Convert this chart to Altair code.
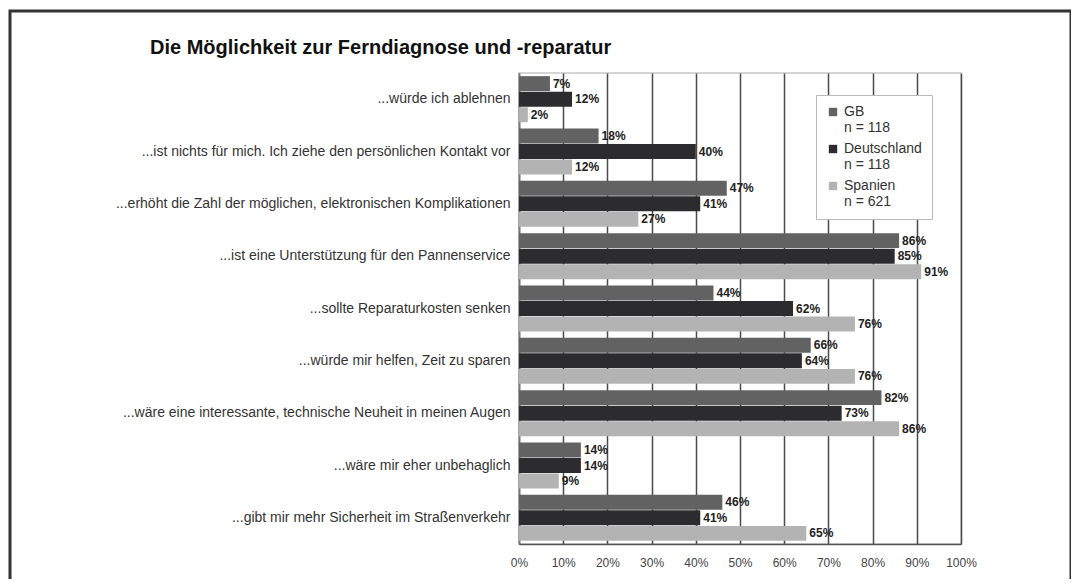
import altair as alt
import pandas as pd

categories = [
    "...würde ich ablehnen",
    "...ist nichts für mich. Ich ziehe den persönlichen Kontakt vor",
    "...erhöht die Zahl der möglichen, elektronischen Komplikationen",
    "...ist eine Unterstützung für den Pannenservice",
    "...sollte Reparaturkosten senken",
    "...würde mir helfen, Zeit zu sparen",
    "...wäre eine interessante, technische Neuheit in meinen Augen",
    "...wäre mir eher unbehaglich",
    "...gibt mir mehr Sicherheit im Straßenverkehr",
]
series = ["GB", "Deutschland", "Spanien"]
sample_sizes = ["n = 118", "n = 118", "n = 621"]
gb = [7, 18, 47, 86, 44, 66, 82, 14, 46]
de = [12, 40, 41, 85, 62, 64, 73, 14, 41]
es = [2, 12, 27, 91, 76, 76, 86, 9, 65]
colors = ["#626262", "#2c2c2e", "#b3b3b3"]
x_ticks = [0, 10, 20, 30, 40, 50, 60, 70, 80, 90, 100]
title_text = "Die Möglichkeit zur Ferndiagnose und -reparatur"

rows = []
for i, c in enumerate(categories):
    for s, vals in zip(series, [gb, de, es]):
        rows.append({"cat": c, "series": s, "value": vals[i], "label": f"{vals[i]}%"})
df = pd.DataFrame(rows)

label_expr = ""
for s, n in zip(series[:-1], sample_sizes[:-1]):
    label_expr += f"datum.label == '{s}' ? ['{s}', '{n}'] : "
label_expr += f"['{series[-1]}', '{sample_sizes[-1]}']"

FONT = "Liberation Sans"

y_enc = alt.Y(
    "cat:N",
    sort=categories,
    scale=alt.Scale(paddingInner=0.12, paddingOuter=0.06),
    axis=alt.Axis(
        title=None, labelFontSize=14, labelColor="#333", labelPadding=9,
        ticks=False, domainColor="#777", domainWidth=1.5, labelLimit=700,
        grid=False, labelFont=FONT,
    ),
)
x_enc = alt.X(
    "value:Q",
    scale=alt.Scale(domain=[0, 100], nice=False),
    axis=alt.Axis(
        values=x_ticks, labelExpr="datum.value + '%'", title=None, ticks=False,
        grid=True, gridColor="#4a4a4a", gridWidth=1.5, domainColor="#555",
        domainWidth=1.5, labelFontSize=12, labelColor="#444", labelPadding=13,
        labelFont=FONT, labelFlush=False, labelOverlap=False,
    ),
)
yoff = alt.YOffset("series:N", sort=series, scale=alt.Scale(paddingInner=0.04))
color = alt.Color(
    "series:N",
    sort=series,
    scale=alt.Scale(domain=series, range=colors),
    legend=alt.Legend(
        title=None, orient="none", legendX=297, legendY=22, symbolType="square",
        symbolSize=70, labelFontSize=14, labelColor="#333", labelExpr=label_expr,
        padding=10, strokeColor="#bbb", fillColor="white", rowPadding=7,
        labelLimit=200, symbolStrokeWidth=0, labelFont=FONT, labelOffset=4,
    ),
)

bars = alt.Chart(df).mark_bar().encode(x=x_enc, y=y_enc, yOffset=yoff, color=color)
texts = alt.Chart(df).mark_text(
    align="left", baseline="middle", dx=3, fontWeight="bold", fontSize=12,
    color="#222", font=FONT,
).encode(x=x_enc, y=y_enc, yOffset=yoff, text="label:N")

frame = alt.Chart(alt.Data(values=[{}])).mark_rect(
    fillOpacity=0, stroke="#333", strokeWidth=3, clip=False
).encode(
    x=alt.value(-509), x2=alt.value(552), y=alt.value(-62), y2=alt.value(600)
)

title = alt.Chart(alt.Data(values=[{"t": title_text}])).mark_text(
    align="left", baseline="alphabetic", fontSize=20, fontWeight="bold",
    font=FONT, color="#111", clip=False,
).encode(x=alt.value(-369), y=alt.value(-19), text="t:N")

chart = alt.layer(bars, texts, frame, title).properties(
    width=442,
    height=471,
    autosize=alt.AutoSizeParams(type="none"),
    padding={"left": 511, "top": 65, "right": 110, "bottom": 35},
).configure(font=FONT).configure_view(stroke="#c8c8c8", strokeWidth=1.5)

chart.save("out.html", embed_options={"renderer": "svg", "actions": False})
